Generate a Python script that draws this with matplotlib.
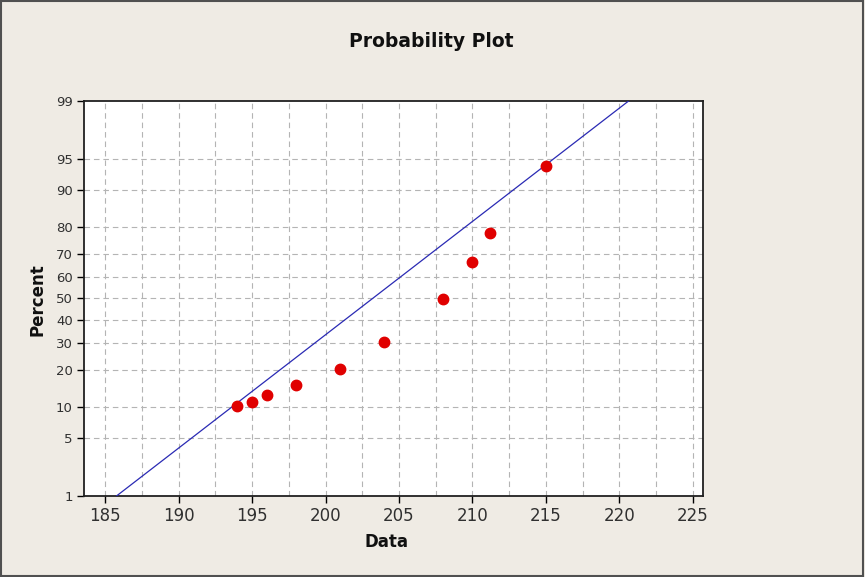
import numpy as np
import matplotlib
matplotlib.use('Agg')
import matplotlib.pyplot as plt
from matplotlib.patches import Rectangle
from statistics import NormalDist

plt.rcParams['font.family'] = ['DejaVu Sans']

# data
data_x = [194, 195, 196, 198, 201, 204, 208, 210, 211.2, 215]
data_pct = [10.3, 11.2, 12.7, 15.5, 20.2, 30.6, 49.8, 66.8, 77.9, 94.1]

x_ticks = [185, 190, 195, 200, 205, 210, 215, 220, 225]
y_ticks = [1, 5, 10, 20, 30, 40, 50, 60, 70, 80, 90, 95, 99]

nd = NormalDist()
_ppf = np.vectorize(lambda v: nd.inv_cdf(v / 100.0), otypes=[float])
_cdf = np.vectorize(lambda v: nd.cdf(v) * 100.0, otypes=[float])


def fwd(p):
    p = np.clip(np.asarray(p, dtype=float), 1e-6, 100 - 1e-6)
    return _ppf(p)


def inv(z):
    return _cdf(np.asarray(z, dtype=float))


# fitted normal line from the data
mu = np.mean([194, 195, 196, 198, 201, 204, 208, 210, 211, 215])
sd = np.std([194, 195, 196, 198, 201, 204, 208, 210, 211, 215], ddof=1)
line_x = np.array([183.0, 226.0])
line_pct = inv((line_x - mu) / sd)

bg = '#EFEBE4'
fig = plt.figure(figsize=(8.65, 5.77), dpi=100, facecolor=bg)
ax = fig.add_axes([0.0971, 0.1404, 0.7156, 0.6846])
ax.set_facecolor('white')
ax.set_yscale('function', functions=(fwd, inv))

ax.plot(line_x, line_pct, color='#2A2AB4', lw=0.9, zorder=3)
ax.plot(data_x, data_pct, 'o', color='#E00000', ms=7.5, mec='#E00000', zorder=4)

ax.set_xlim(183.55, 225.7)
ax.set_ylim(1, 99)

ax.set_xticks(x_ticks)
ax.set_xticks(np.arange(187.5, 225, 5), minor=True)
ax.set_yticks(y_ticks)
ax.set_yticklabels([str(t) for t in y_ticks])
ax.yaxis.set_minor_locator(matplotlib.ticker.NullLocator())
ax.tick_params(axis='x', which='major', labelsize=12, length=5, width=1, direction='out', pad=3,
               labelcolor='#303030')
ax.tick_params(axis='x', which='minor', length=0)
ax.tick_params(axis='y', labelsize=9.5, length=5, width=1, direction='out', pad=3,
               labelcolor='#303030')

# grid
for gx in np.arange(185, 226, 2.5):
    ax.axvline(gx, color='#B4B4B4', lw=0.8, ls=(0, (5, 3.5)), zorder=1)
for gy in y_ticks[1:-1]:
    ax.axhline(gy, color='#B4B4B4', lw=0.8, ls=(0, (5, 3.5)), zorder=1)

for s in ax.spines.values():
    s.set_linewidth(1.3)
    s.set_color('#202020')

fig.text(0.499, 0.928, 'Probability Plot', ha='center', va='center',
         fontsize=13.5, fontweight='bold', color='#101010')
fig.text(0.043, 0.48, 'Percent', rotation=90, ha='center', va='center',
         fontsize=12, fontweight='bold', color='#101010')
fig.text(0.447, 0.06, 'Data', ha='center', va='center',
         fontsize=12, fontweight='bold', color='#101010')

# outer frame
fig.patches.append(Rectangle((0.001, 0.002), 0.997, 0.996, transform=fig.transFigure,
                             fill=False, edgecolor='#505050', lw=1.5))

fig.savefig('out.png', dpi=100, facecolor=bg)
